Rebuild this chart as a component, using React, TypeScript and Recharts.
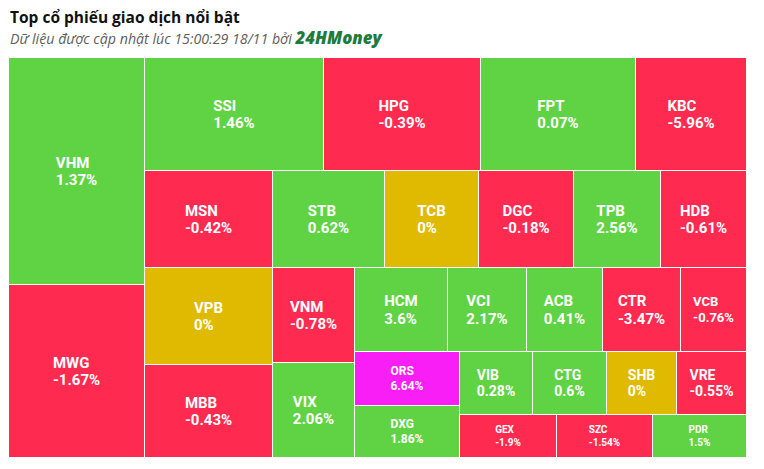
import React from 'react';
import { Treemap } from 'recharts';

// ---- data (trading value estimated from tile area, % change read from labels) ----
const tickers = ['VHM', 'MWG', 'SSI', 'HPG', 'FPT', 'KBC', 'MSN', 'STB', 'TCB', 'DGC', 'TPB', 'HDB', 'VPB', 'MBB', 'VNM', 'VIX', 'HCM', 'VCI', 'ACB', 'CTR', 'VCB', 'ORS', 'DXG', 'VIB', 'CTG', 'SHB', 'VRE', 'GEX', 'SZC', 'PDR'];
const tradingValue = [306, 233, 200, 176, 174, 124, 124, 108, 91, 92, 84, 83, 124, 118, 77.5, 77.5, 78, 66, 63.5, 65, 55, 57, 54, 46, 46.5, 44, 44, 41.5, 41, 40];
const changePct = [1.37, -1.67, 1.46, -0.39, 0.07, -5.96, -0.42, 0.62, 0, -0.18, 2.56, -0.61, 0, -0.43, -0.78, 2.06, 3.6, 2.17, 0.41, -3.47, -0.76, 6.64, 1.86, 0.28, 0.6, 0, -0.55, -1.9, -1.54, 1.5];

// tile groups (blocks) in the order they are laid out
const blockNames = ['left', 'top', 'row2', 'mid', 'hcm', 'ors', 'vib', 'gex'];
const blockTickers = [
  ['VHM', 'MWG'],
  ['SSI', 'HPG', 'FPT', 'KBC'],
  ['MSN', 'STB', 'TCB', 'DGC', 'TPB', 'HDB'],
  ['VPB', 'MBB', 'VNM', 'VIX'],
  ['HCM', 'VCI', 'ACB', 'CTR', 'VCB'],
  ['ORS', 'DXG'],
  ['VIB', 'CTG', 'SHB', 'VRE'],
  ['GEX', 'SZC', 'PDR'],
];

const titleText = 'Top cổ phiếu giao dịch nổi bật';
const subtitleText = 'Dữ liệu được cập nhật lúc 15:00:29 18/11 bởi ';
const brandText = '24HMoney';

// ---- layout helpers ----
type Split = { dir: 'x' | 'y'; parts: (string | Split)[] };
const splitTree: Split = {
  dir: 'x',
  parts: ['left', { dir: 'y', parts: ['top', 'row2', { dir: 'x', parts: ['mid', { dir: 'y', parts: ['hcm', { dir: 'x', parts: ['ors', { dir: 'y', parts: ['vib', 'gex'] }] }] }] }] }],
};

const CHART_W = 738;
const CHART_H = 400;
const OFFSET_X = 1;
const OFFSET_Y = 50;

function blockData(name: string) {
  const list = blockTickers[blockNames.indexOf(name)];
  return list.map((t) => {
    const i = tickers.indexOf(t);
    return { name: t, size: tradingValue[i], pct: changePct[i] };
  });
}

function partSum(p: string | Split): number {
  if (typeof p === 'string') return blockData(p).reduce((a, d) => a + d.size, 0);
  return p.parts.reduce((a, q) => a + partSum(q), 0);
}

type R = { key: string; x: number; y: number; w: number; h: number };
function layout(p: string | Split, x: number, y: number, w: number, h: number, out: R[]) {
  if (typeof p === 'string') {
    out.push({ key: p, x, y, w, h });
    return;
  }
  const total = partSum(p);
  const len = p.dir === 'x' ? w : h;
  let cum = 0;
  p.parts.forEach((q) => {
    const s0 = Math.round((cum / total) * len);
    cum += partSum(q);
    const s1 = Math.round((cum / total) * len);
    if (p.dir === 'x') layout(q, x + s0, y, s1 - s0, h, out);
    else layout(q, x, y + s0, w, s1 - s0, out);
  });
}

let measureCtx: CanvasRenderingContext2D | null = null;
function textWidth(s: string, fs: number) {
  if (typeof document !== 'undefined') {
    if (!measureCtx) measureCtx = document.createElement('canvas').getContext('2d');
    if (measureCtx) {
      measureCtx.font = `bold ${fs}px Roboto`;
      return measureCtx.measureText(s).width;
    }
  }
  return s.length * fs * 0.6;
}

function colorFor(p: number) {
  if (p >= 6.5) return '#f81ef5';
  if (p > 0) return '#60d344';
  if (p < 0) return '#ff2a50';
  return '#dfba00';
}

function TileContent(props: any) {
  const { x, y, width, height, depth, name, pct } = props;
  if (depth !== 1 || !width || !height) return null;
  const w = width - 1;
  const h = height - 1;
  const fs = Math.max(8, Math.min(15, Math.round(Math.min(w / 5, h / 4.3))));
  const l1 = String(name);
  const l2 = `${pct}%`;
  const bw = Math.max(textWidth(l1, fs), textWidth(l2, fs));
  const cx = x + w / 2;
  const cy = y + h / 2;
  const tx = cx - bw / 2;
  const cap = 0.711 * fs;
  const gap = fs + 2.6;
  const b1 = cy + (cap - gap) / 2;
  return (
    <g>
      <rect x={x} y={y} width={w} height={h} fill={colorFor(pct)} />
      <text x={tx} y={b1} fontSize={fs} fontWeight={700} fontFamily="Roboto, sans-serif" fill="#fff">
        {l1}
      </text>
      <text x={tx} y={b1 + gap} fontSize={fs} fontWeight={700} fontFamily="Roboto, sans-serif" fill="#fff">
        {l2}
      </text>
    </g>
  );
}

export default function App() {
  const rects: R[] = [];
  layout(splitTree, 0, 0, CHART_W, CHART_H, rects);
  return (
    <div style={{ position: 'relative', width: 750, height: 452 }}>
      <svg width={756} height={56} style={{ position: 'absolute', left: 0, top: -8, overflow: 'visible' }}>
        <text x={2} y={23} fontSize={15.5} fontWeight={700} fontFamily="'Open Sans', sans-serif" fill="#111">
          {titleText}
        </text>
        <text x={2} y={43.5} fontFamily="'Open Sans', sans-serif" fontStyle="italic">
          <tspan fontSize={14.2} fill="#5e5e5e">{subtitleText}</tspan>
          <tspan fontSize={16.8} fontWeight={800} fill="#1e7b3e">{brandText}</tspan>
        </text>
      </svg>
      {rects.map((r) => (
        <div key={r.key} style={{ position: 'absolute', left: OFFSET_X + r.x, top: OFFSET_Y + r.y, width: r.w, height: r.h }}>
          <Treemap
            width={r.w}
            height={r.h}
            data={blockData(r.key)}
            dataKey="size"
            nameKey="name"
            aspectRatio={1}
            isAnimationActive={false}
            content={<TileContent />}
          />
        </div>
      ))}
    </div>
  );
}
